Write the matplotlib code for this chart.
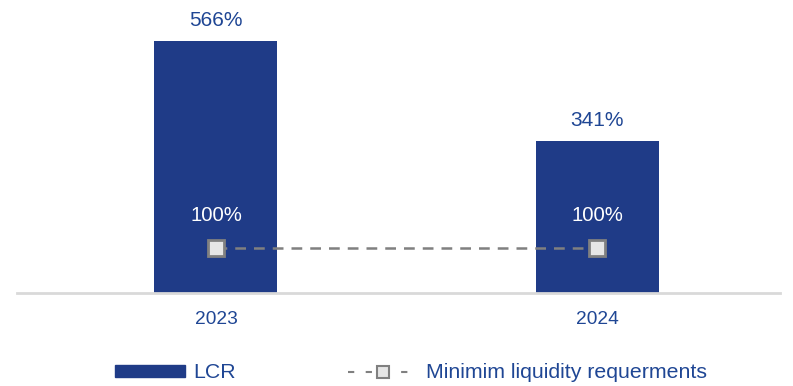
import matplotlib.pyplot as plt
from matplotlib.patches import Patch
from matplotlib.lines import Line2D

plt.rcParams['font.family'] = ['Liberation Sans', 'DejaVu Sans']

years = ['2023', '2024']
lcr = [566, 341]
min_req = [100, 100]

bar_color = '#1F3B87'
text_color = '#1F4694'
grey = '#808080'

fig = plt.figure(figsize=(7.93, 3.86), dpi=100)
ax = fig.add_axes([17 / 793, 1 - 293 / 386, 763 / 793, 293 / 386])

x = list(range(len(years)))
ax.bar(x, lcr, width=0.323, color=bar_color, zorder=2)
ax.plot(x, min_req, linestyle=(0, (4.3, 3.2)), color=grey, linewidth=1.8,
        marker='s', markersize=11.5, markerfacecolor='#E6E6E6',
        markeredgecolor=grey, markeredgewidth=2, zorder=3)

for xi, v in zip(x, lcr):
    ax.text(xi, v + 46, f'{v}%', ha='center', va='center', fontsize=15, color=text_color)
for xi, v in zip(x, min_req):
    ax.text(xi, v + 75, f'{v}%', ha='center', va='center', fontsize=14.6, color='white', zorder=4)

ax.set_xlim(-0.522, 1.480)
ax.set_ylim(0, 658)
ax.set_xticks(x)
ax.set_xticklabels(years, fontsize=13.8, color=text_color)
ax.tick_params(axis='x', length=0, pad=13)
ax.set_yticks([])
for side in ['left', 'right', 'top']:
    ax.spines[side].set_visible(False)
ax.spines['bottom'].set_color('#D9D9D9')
ax.spines['bottom'].set_linewidth(2)

handles = [
    Patch(facecolor=bar_color, edgecolor=bar_color),
    Line2D([0], [0], linestyle=(0, (3, 5.5)), color=grey, linewidth=1.5,
           marker='s', markersize=8, markerfacecolor='#E6E6E6',
           markeredgecolor=grey, markeredgewidth=1.5),
]
leg = fig.legend(handles, ['LCR', 'Minimim liquidity requerments'], loc='center left',
                 bbox_to_anchor=(115 / 793, 1 - 373 / 386), ncol=2, frameon=False,
                 fontsize=15.3, handlelength=3.3, handleheight=0.55, handletextpad=0.36,
                 columnspacing=5.3, borderaxespad=0, borderpad=0)
for t in leg.get_texts():
    t.set_color(text_color)

fig.savefig('out.png', dpi=100)
